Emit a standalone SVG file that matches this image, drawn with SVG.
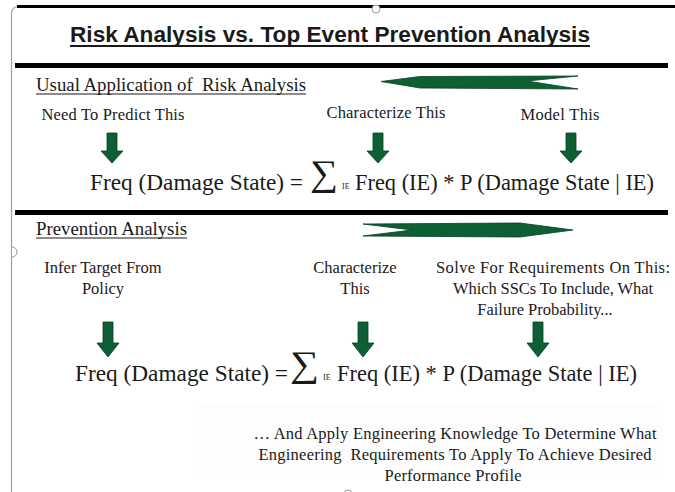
<svg xmlns="http://www.w3.org/2000/svg" width="675" height="492" viewBox="0 0 675 492">
<style>
.t{font-family:"Liberation Serif","Times New Roman",serif;fill:#1a1a1a}
.lbl{font-size:16.5px}
.hdr{font-size:18.5px}
.frm{font-size:23.5px}
.sig{font-size:36px}
.sub{font-size:8px}
.ttl{font-family:"Liberation Sans",Arial,sans-serif;font-weight:bold;font-size:22.5px;fill:#1a1a1a}
.bar{fill:#000}
.ul{stroke:#1a1a1a;stroke-width:1.2}
.grn{fill:#0d5f34;stroke:#0a3f22;stroke-width:0.8}
.hdl{fill:#fff;stroke:#999;stroke-width:1}
</style>
<defs>
<path id="dn1" d="M-5,0 H5 V18 H11 L0,30 L-11,18 H-5 Z"/>
<path id="dn2" d="M-5,0 H5 V21 H11 L0,35 L-11,21 H-5 Z"/>
</defs>
<rect width="675" height="492" fill="#fff"/>
<g id="frame">
<rect x="193" y="403" width="470" height="70" fill="#fdfdfd"/>
<line x1="11.5" y1="14" x2="11.5" y2="492" stroke="#a0a0a0" stroke-width="1.2"/>
<path d="M11.5,14 Q12,6.5 18,6.5" fill="none" stroke="#a0a0a0" stroke-width="1.2"/>
<rect class="bar" x="17" y="5" width="658" height="3"/>
<rect class="bar" x="15" y="63" width="653" height="5"/>
<rect class="bar" x="15" y="210" width="653" height="5"/>
<circle class="hdl" cx="376" cy="9" r="4"/>
<path class="hdl" d="M12,247 A5,5 0 0 1 12,257"/>
<circle class="hdl" cx="348" cy="494" r="4"/>
</g>
<g id="title">
<text class="ttl" x="70" y="42" textLength="520" lengthAdjust="spacingAndGlyphs">Risk Analysis vs. Top Event Prevention Analysis</text>
<line x1="70" y1="46" x2="590" y2="46" stroke="#1a1a1a" stroke-width="2"/>
</g>
<g id="usual-header">
<text class="t hdr" x="36" y="91" textLength="270" lengthAdjust="spacingAndGlyphs">Usual Application of&#160; Risk Analysis</text>
<line class="ul" x1="36" y1="94" x2="306" y2="94"/>
</g>
<g id="label-predict"><text class="t lbl" x="113" y="120" text-anchor="middle" textLength="143">Need To Predict This</text></g>
<g id="label-characterize1"><text class="t lbl" x="386" y="118" text-anchor="middle" textLength="119">Characterize This</text></g>
<g id="label-model"><text class="t lbl" x="560" y="120" text-anchor="middle" textLength="79">Model This</text></g>
<g id="formula1">
<text class="t frm" x="90" y="190" textLength="213" lengthAdjust="spacingAndGlyphs">Freq (Damage State) =</text>
<text class="t sig" x="310" y="185" textLength="28" lengthAdjust="spacingAndGlyphs">∑</text>
<text class="t sub" x="342" y="189">IE</text>
<text class="t frm" x="355" y="190" textLength="299" lengthAdjust="spacingAndGlyphs">Freq (IE) * P (Damage State | IE)</text>
</g>
<g id="prevention-header">
<text class="t hdr" x="36" y="235" textLength="151" lengthAdjust="spacingAndGlyphs">Prevention Analysis</text>
<line class="ul" x1="36" y1="238" x2="187" y2="238"/>
</g>
<g id="label-infer">
<text class="t lbl" x="103" y="273" text-anchor="middle">Infer Target From</text>
<text class="t lbl" x="103" y="294" text-anchor="middle">Policy</text>
</g>
<g id="label-characterize2">
<text class="t lbl" x="355" y="273" text-anchor="middle">Characterize</text>
<text class="t lbl" x="355" y="294" text-anchor="middle">This</text>
</g>
<g id="label-solve">
<text class="t lbl" x="553" y="273" text-anchor="middle" textLength="234">Solve For Requirements On This:</text>
<text class="t lbl" x="553" y="294" text-anchor="middle" textLength="200">Which SSCs To Include, What</text>
<text class="t lbl" x="545" y="315" text-anchor="middle">Failure Probability...</text>
</g>
<g id="formula2">
<text class="t frm" x="75" y="381" textLength="213" lengthAdjust="spacingAndGlyphs">Freq (Damage State) =</text>
<text class="t sig" x="290" y="376" textLength="29" lengthAdjust="spacingAndGlyphs">∑</text>
<text class="t sub" x="323" y="380">IE</text>
<text class="t frm" x="337" y="381" textLength="300" lengthAdjust="spacingAndGlyphs">Freq (IE) * P (Damage State | IE)</text>
</g>
<g id="note">
<text class="t lbl" x="455" y="439" text-anchor="middle" textLength="403">… And Apply Engineering Knowledge To Determine What</text>
<text class="t lbl" x="455" y="460" text-anchor="middle" textLength="393">Engineering&#160; Requirements To Apply To Achieve Desired</text>
<text class="t lbl" x="453" y="481" text-anchor="middle" textLength="137">Performance Profile</text>
</g>
<g id="connectors">
<polygon class="grn" points="381,81.5 420,76.5 578,76 527,81 578,89 420,88"/>
<polygon class="grn" points="363,224 520,223 573,230 520,237 363,236 412,230"/>
<use href="#dn1" class="grn" x="112" y="133"/>
<use href="#dn1" class="grn" x="378" y="133"/>
<use href="#dn1" class="grn" x="571" y="133"/>
<use href="#dn2" class="grn" x="108" y="322"/>
<use href="#dn2" class="grn" x="363" y="322"/>
<use href="#dn2" class="grn" x="538" y="322"/>
</g>
</svg>
